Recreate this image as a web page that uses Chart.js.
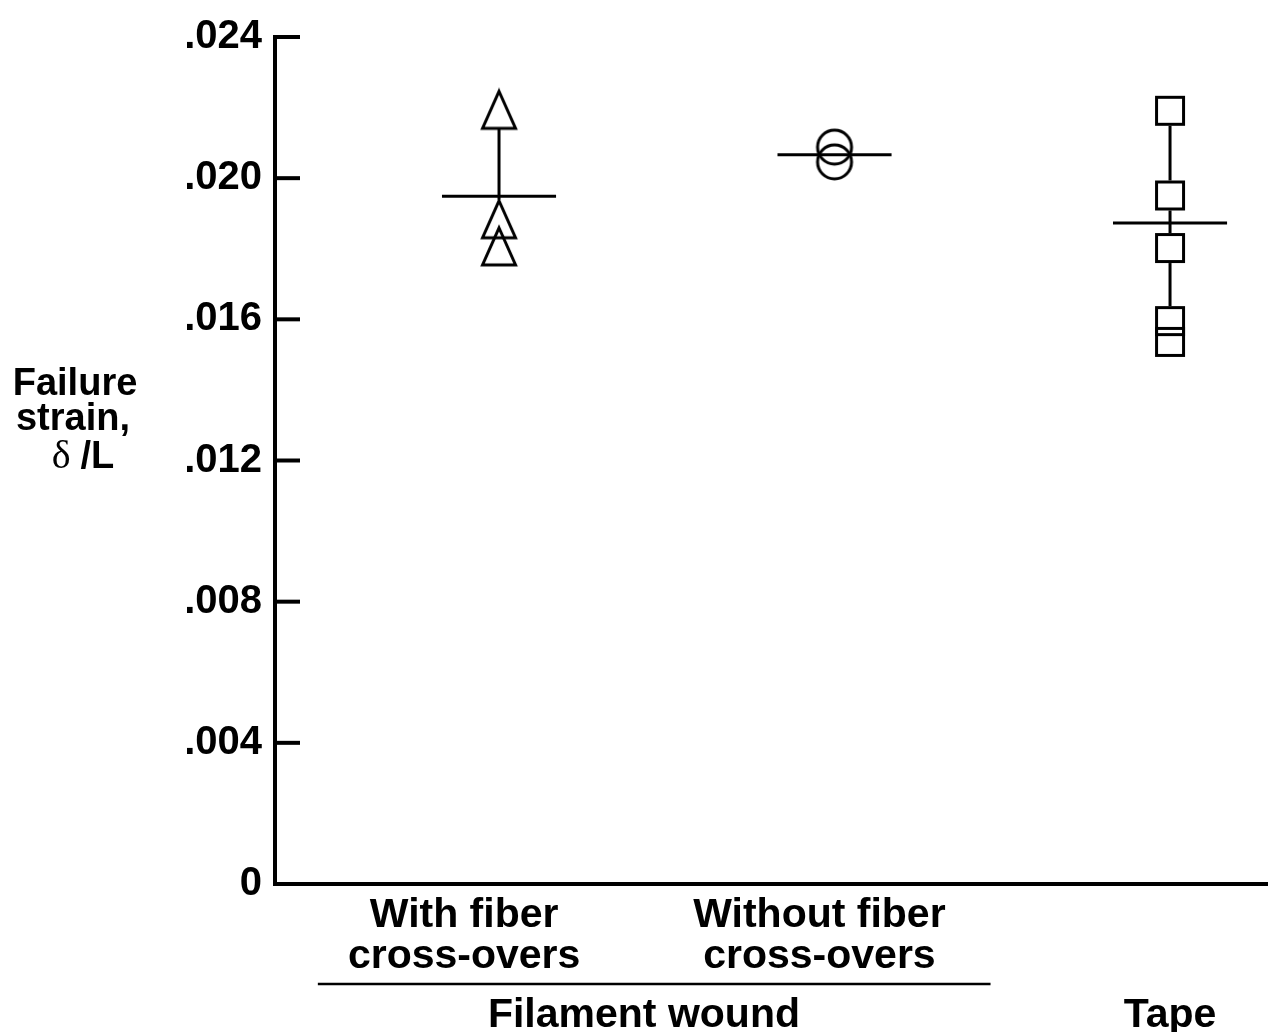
<!DOCTYPE html>
<html>
<head>
<meta charset="utf-8">
<title>Failure strain</title>
<script src="https://cdn.jsdelivr.net/npm/chart.js@4.4.1/dist/chart.umd.min.js"></script>
<style>
  html, body { margin: 0; padding: 0; background: #fff; overflow: hidden; }
  canvas { display: block; }
</style>
</head>
<body>
<canvas id="strainChart" width="1268" height="1032"></canvas>
<script>
// Data
const categories = [['With fiber', 'cross-overs'], ['Without fiber', 'cross-overs'], ['Tape']];
const groupLabel = 'Filament wound';
const categoryPos = [1, 2, 3];
const withCrossovers = [0.02195, 0.01885, 0.01808];
const withoutCrossovers = [0.02088, 0.02046];
const tape = [0.02191, 0.01951, 0.01802, 0.01595, 0.01536];
const means = [0.01949, 0.02066, 0.01873];
const yTicks = [0, 0.004, 0.008, 0.012, 0.016, 0.020, 0.024];

// Layout bits (not data)
const labelX = [0.896, 1.955, 3.0];
const groupSpan = [0.46, 2.465];
const groupCenter = 1.432;
const meanHalfWidth = 0.17;

// Hollow marker images
function makeMarker(shape) {
  const c = document.createElement('canvas');
  if (shape === 'triangle') { c.width = 40; c.height = 44; }
  else if (shape === 'circle') { c.width = 42; c.height = 42; }
  else { c.width = 36; c.height = 36; }
  const g = c.getContext('2d');
  g.lineWidth = 3;
  g.strokeStyle = '#000';
  if (shape === 'triangle') {
    g.beginPath();
    g.moveTo(20, 4); g.lineTo(36.5, 41); g.lineTo(3.5, 41); g.closePath();
    g.stroke();
  } else if (shape === 'circle') {
    g.beginPath();
    g.arc(21, 21, 17, 0, Math.PI * 2);
    g.stroke();
  } else {
    g.strokeRect(4.5, 4.5, 27, 27);
  }
  return c;
}
const markers = [makeMarker('triangle'), makeMarker('circle'), makeMarker('rect')];
const markerHalfH = [19, 18.5, 15];
const series = [withCrossovers, withoutCrossovers, tape];

const pointSets = series.map((vals, i) => ({
  data: vals.map(v => ({ x: categoryPos[i], y: v })),
  pointStyle: markers[i],
  pointRadius: 20,
  showLine: false
}));

const meanSets = means.map((m, i) => ({
  data: [{ x: categoryPos[i] - meanHalfWidth, y: m }, { x: categoryPos[i] + meanHalfWidth, y: m }],
  showLine: true,
  borderColor: '#000',
  borderWidth: 3,
  pointRadius: 0
}));

// connectors between markers, inward ticks and all the labels
const decor = {
  id: 'decor',
  afterDatasetsDraw(chart) {
    const ctx = chart.ctx;
    const xs = chart.scales.x, ys = chart.scales.y;
    ctx.save();
    ctx.strokeStyle = '#000';
    ctx.lineWidth = 3;
    series.forEach((vals, i) => {
      const px = xs.getPixelForValue(categoryPos[i]);
      const pys = vals.map(v => ys.getPixelForValue(v)).sort((a, b) => a - b);
      for (let k = 0; k < pys.length - 1; k++) {
        const a = pys[k] + markerHalfH[i];
        const b = pys[k + 1] - markerHalfH[i];
        if (b > a) {
          ctx.beginPath();
          ctx.moveTo(px, a);
          ctx.lineTo(px, b);
          ctx.stroke();
        }
      }
    });
    // ticks pointing into the plot
    ctx.lineWidth = 4;
    const left = chart.chartArea.left;
    ys.ticks.forEach(t => {
      const py = ys.getPixelForValue(t.value);
      ctx.beginPath();
      ctx.moveTo(left, py);
      ctx.lineTo(left + 25, py);
      ctx.stroke();
    });
    ctx.restore();
  },
  afterDraw(chart) {
    const ctx = chart.ctx;
    const xs = chart.scales.x;
    ctx.save();
    ctx.fillStyle = '#000';
    ctx.textAlign = 'center';
    ctx.textBaseline = 'alphabetic';
    ctx.font = 'bold 41px "Liberation Sans", Arial, sans-serif';
    categories.forEach((lines, i) => {
      const px = xs.getPixelForValue(labelX[i]);
      if (lines.length === 1) {
        ctx.fillText(lines[0], px, 1027);
      } else {
        ctx.fillText(lines[0], px, 927);
        ctx.fillText(lines[1], px, 968);
      }
    });
    ctx.fillText(groupLabel, xs.getPixelForValue(groupCenter), 1027);
    ctx.lineWidth = 2.5;
    ctx.beginPath();
    ctx.moveTo(xs.getPixelForValue(groupSpan[0]), 984);
    ctx.lineTo(xs.getPixelForValue(groupSpan[1]), 984);
    ctx.stroke();

    // y axis title
    ctx.font = 'bold 38px "Liberation Sans", Arial, sans-serif';
    ctx.fillText('Failure', 75, 395);
    ctx.fillText('strain,', 73, 430);
    const f1 = '40px "Liberation Serif", serif';
    const f2 = 'bold 38px "Liberation Sans", Arial, sans-serif';
    ctx.font = f1; const w1 = ctx.measureText('\u03b4 ').width;
    ctx.font = f2; const w2 = ctx.measureText('/L').width;
    let x0 = 83 - (w1 + w2) / 2;
    ctx.textAlign = 'left';
    ctx.font = f1; ctx.fillText('\u03b4 ', x0, 468);
    ctx.font = f2; ctx.fillText('/L', x0 + w1, 468);
    ctx.restore();
  }
};

new Chart(document.getElementById('strainChart'), {
  type: 'scatter',
  data: { datasets: [...meanSets, ...pointSets] },
  options: {
    responsive: false,
    animation: false,
    layout: { autoPadding: false, padding: { top: 33, right: 0, left: 0, bottom: 0 } },
    plugins: { legend: { display: false }, tooltip: { enabled: false } },
    scales: {
      x: {
        type: 'linear',
        min: 0.3323,
        max: 3.292,
        grid: { display: false, drawTicks: false },
        border: { display: true, color: '#000', width: 4 },
        ticks: { display: false },
        afterFit(scale) { scale.height = 148; }
      },
      y: {
        min: 0,
        max: 0.024,
        afterBuildTicks(scale) { scale.ticks = yTicks.map(v => ({ value: v })); },
        grid: { display: false, drawTicks: false },
        border: { display: true, color: '#000', width: 4 },
        ticks: {
          padding: 13,
          color: '#000',
          font: { family: '"Liberation Sans", Arial, sans-serif', size: 40, weight: 'bold' },
          callback: v => v === 0 ? '0' : v.toFixed(3).replace(/^0/, '')
        },
        afterFit(scale) { scale.width = 275; }
      }
    }
  },
  plugins: [decor]
});
</script>
</body>
</html>
